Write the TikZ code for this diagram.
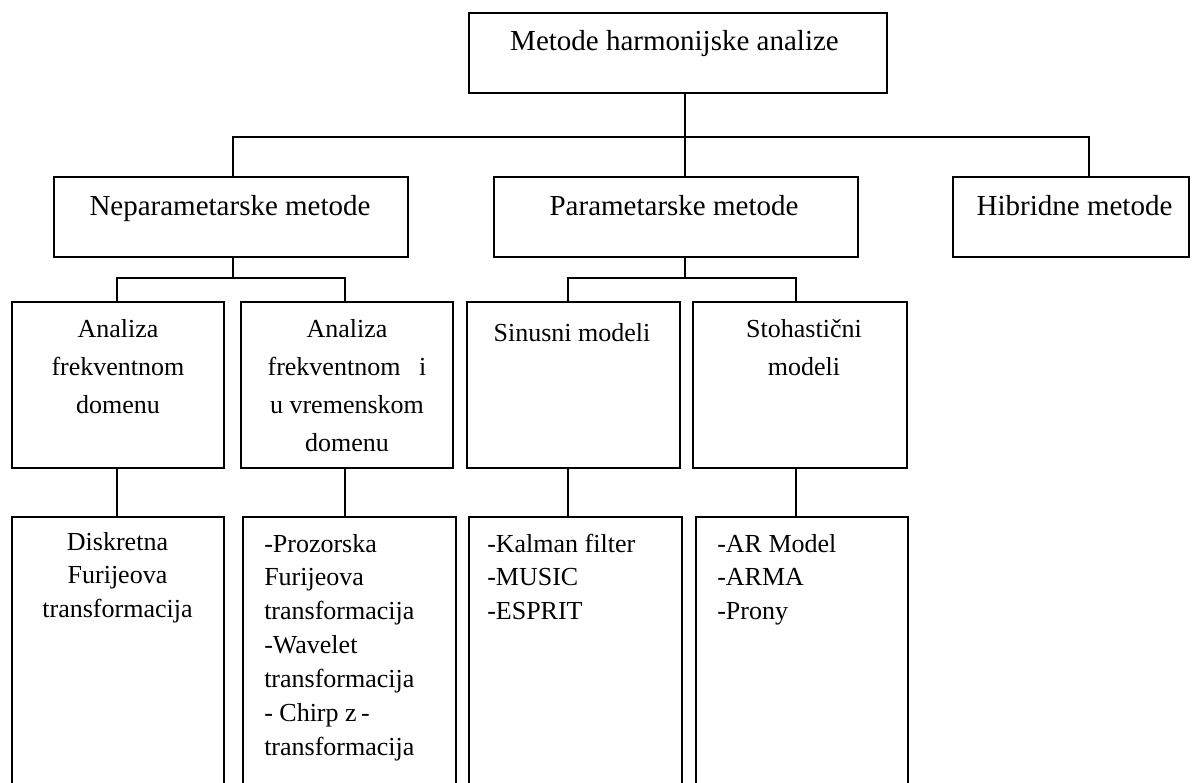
\documentclass[tikz,border=0pt]{standalone}
\usepackage{fontspec}
\setmainfont{Liberation Serif}
\usetikzlibrary{fit}
\begin{document}
\begin{tikzpicture}[x=0.75pt,y=-0.75pt,
  box/.style={draw, line width=1.1pt, inner sep=0pt},
  conn/.style={line width=0.8pt},
  bigtxt/.style={font=\fontsize{21.75pt}{26pt}\selectfont, inner sep=0pt, anchor=base},
  midtxt/.style={font=\fontsize{19.5pt}{28.7pt}\selectfont, inner sep=0pt, anchor=base},
  lowtxt/.style={font=\fontsize{19.5pt}{25.4pt}\selectfont, inner sep=0pt}
]
\useasboundingbox (0,0) rectangle (1192,782);

% boxes
\node[box, fit={(469,13) (887,93)}] (top) {};
\node[box, fit={(54,177) (408,257)}] (nep) {};
\node[box, fit={(494,177) (858,257)}] (par) {};
\node[box, fit={(953,177) (1189,257)}] (hib) {};
\node[box, fit={(12,302) (224,468)}] (af) {};
\node[box, fit={(241,302) (453,468)}] (avf) {};
\node[box, fit={(467,302) (680,468)}] (sm) {};
\node[box, fit={(693,302) (907,468)}] (stm) {};
% lower boxes run past the bottom edge of the picture (open at the bottom)
\node[box, fit={(12,517) (224,800)}] (df) {};
\node[box, fit={(243,517) (456,800)}] (pf) {};
\node[box, fit={(469,517) (682,800)}] (ks) {};
\node[box, fit={(696,517) (908,800)}] (ar) {};

% texts
\node[bigtxt] (ttop) at (674.5,50) {Metode harmonijske analize};
\node[bigtxt] (tnep) at (230,215) {Neparametarske metode};
\node[bigtxt] (tpar) at (674,215) {Parametarske metode};
\node[bigtxt] (thib) at (1074.5,215) {Hibridne metode};

\node[midtxt] (taf) at (118,337) {\begin{tabular}[t]{@{}c@{}}Analiza\\frekventnom\\domenu\end{tabular}};
\node[midtxt] (tavf) at (347,337) {\begin{tabular}[t]{@{}c@{}}Analiza\\frekventnom\hspace{14pt}i\\u vremenskom\\domenu\end{tabular}};
\node[midtxt] (tsm) at (572,341) {Sinusni modeli};
\node[midtxt] (tstm) at (804,337) {\begin{tabular}[t]{@{}c@{}}Stohastični\\modeli\end{tabular}};

\node[lowtxt, anchor=base] (tdf) at (117.5,550) {\begin{tabular}[t]{@{}c@{}}Diskretna\\Furijeova\\transformacija\end{tabular}};
\node[lowtxt, anchor=base west] (tpf) at (264,552) {\begin{tabular}[t]{@{}l@{}}-Prozorska\\Furijeova\\transformacija\\-Wavelet\\transformacija\\- Chirp z\,-\\transformacija\end{tabular}};
\node[lowtxt, anchor=base west] (tks) at (487,552) {\begin{tabular}[t]{@{}l@{}}-Kalman filter\\-MUSIC\\-ESPRIT\end{tabular}};
\node[lowtxt, anchor=base west] (tar) at (717,552) {\begin{tabular}[t]{@{}l@{}}-AR Model\\-ARMA\\-Prony\end{tabular}};

% connectors
\coordinate (bL) at (233,137);
\coordinate (bM) at (685,137);
\coordinate (bR) at (1089,137);
\draw[conn] (top.south -| bM) -- (bM);
\draw[conn] (nep.north -| bL) -- (bL) -- (bR) -- (hib.north -| bR);
\draw[conn] (bM) -- (par.north -| bM);

\coordinate (nL) at (117,278);
\coordinate (nM) at (233,278);
\coordinate (nR) at (345,278);
\draw[conn] (nep.south -| nM) -- (nM);
\draw[conn] (af.north -| nL) -- (nL) -- (nR) -- (avf.north -| nR);

\coordinate (pL) at (568,278);
\coordinate (pM) at (685,278);
\coordinate (pR) at (796,278);
\draw[conn] (par.south -| pM) -- (pM);
\draw[conn] (sm.north -| pL) -- (pL) -- (pR) -- (stm.north -| pR);

\draw[conn] (af.south -| nL) -- (df.north -| nL);
\draw[conn] (avf.south -| nR) -- (pf.north -| nR);
\draw[conn] (sm.south -| pL) -- (ks.north -| pL);
\draw[conn] (stm.south -| pR) -- (ar.north -| pR);
\end{tikzpicture}
\end{document}
